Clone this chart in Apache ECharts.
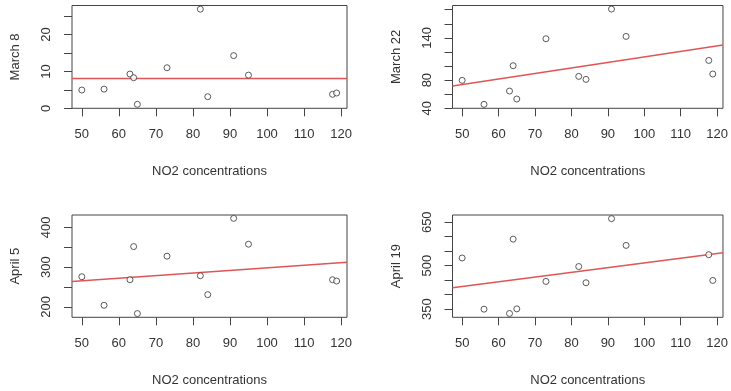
<!DOCTYPE html>
<html>
<head>
<meta charset="utf-8">
<script src="https://cdn.jsdelivr.net/npm/echarts@6/dist/echarts.min.js"></script>
<style>html,body{margin:0;padding:0;background:#fff}#c{width:731px;height:391px}</style>
</head>
<body>
<div id="c"></div>
<script>
// NO2 concentrations (x, shared by all panels)
const no2 = [50, 56, 63, 64, 65, 73, 82, 84, 91, 95, 117.7, 118.8];
// response values per date
const march8  = [4.96, 5.2, 9.3, 8.3, 1.08, 11.0, 26.9, 3.15, 14.3, 9.0, 3.8, 4.15];
const march22 = [79.7, 45.6, 64.5, 100.5, 53.2, 138.8, 85.3, 81.1, 180.9, 142.1, 108.0, 88.7];
const april5  = [275.9, 204.2, 268.4, 351.7, 183.4, 327.6, 278.4, 230.9, 422.6, 357.6, 268.4, 265.1];
const april19 = [526.7, 350, 335.2, 591.7, 351.1, 445.8, 497.1, 441.2, 662.4, 570.1, 538.1, 449.2];
const panelNames = ['March 8', 'March 22', 'April 5', 'April 19'];
// fitted line end values (at x range ends)
const fitX = [47.35, 121.6];
const fit8  = [8.1, 8.1];
const fit22 = [71.6, 129.8];
const fit5  = [264.2, 312.6];
const fit19 = [424.1, 545];
// axis ranges
const xRange = [47.35, 121.6];
const yRange8 = [0, 27.9];
const yRange22 = [40, 186];
const yRange5 = [174, 431];
const yRange19 = [322, 675];
// ticks & labels
const xTicks = [50, 60, 70, 80, 90, 100, 110, 120];
const yTicks8 = [0, 5, 10, 15, 20, 25];
const yLabels8 = [0, 10, 20];
const yTicks22 = [40, 60, 80, 100, 120, 140, 160, 180];
const yLabels22 = [40, 80, 140];
const yTicks5 = [200, 250, 300, 350, 400];
const yLabels5 = [200, 300, 400];
const yTicks19 = [350, 400, 450, 500, 550, 600, 650];
const yLabels19 = [350, 500, 650];
const xName = 'NO2 concentrations';

const ys = [march8, march22, april5, april19];
const fits = [fit8, fit22, fit5, fit19];
const yRanges = [yRange8, yRange22, yRange5, yRange19];
const yTickSets = [yTicks8, yTicks22, yTicks5, yTicks19];
const yLabelSets = [yLabels8, yLabels22, yLabels5, yLabels19];

const grids = [
  {left: 72, top: 5.5, width: 275, height: 102.8},
  {left: 452.5, top: 5.5, width: 274.2, height: 102.8},
  {left: 72, top: 215, width: 275, height: 102.3},
  {left: 452.5, top: 215, width: 274.2, height: 102.3}
];
const FONT = 'Liberation Sans, Arial, sans-serif';
const TXT = '#333';

const option = {
  animation: false,
  grid: grids.map(g => Object.assign({show: true, borderColor: '#444', borderWidth: 1, backgroundColor: 'transparent'}, g)),
  xAxis: grids.map((g, i) => ({
    type: 'value', gridIndex: i, min: xRange[0], max: xRange[1],
    name: xName, nameLocation: 'middle', nameGap: 57,
    nameTextStyle: {fontFamily: FONT, fontSize: 13, color: TXT},
    axisLine: {show: false},
    splitLine: {show: false},
    axisTick: {show: true, length: 8, customValues: xTicks, lineStyle: {color: '#444'}},
    axisLabel: {customValues: xTicks, margin: 20, fontFamily: FONT, fontSize: 13, color: TXT}
  })),
  yAxis: grids.map((g, i) => ({
    type: 'value', gridIndex: i, min: yRanges[i][0], max: yRanges[i][1],
    name: panelNames[i], nameLocation: 'middle', nameGap: 50,
    nameTextStyle: {fontFamily: FONT, fontSize: 13, color: TXT},
    axisLine: {show: false},
    splitLine: {show: false},
    axisTick: {show: true, length: 8, customValues: yTickSets[i], lineStyle: {color: '#444'}},
    axisLabel: {customValues: yLabelSets[i], rotate: 90, margin: 19, showMinLabel: true, showMaxLabel: true, fontFamily: FONT, fontSize: 13, color: TXT}
  })),
  series: []
};
ys.forEach((yv, i) => {
  option.series.push({
    type: 'scatter', xAxisIndex: i, yAxisIndex: i,
    data: no2.map((x, k) => [x, yv[k]]),
    symbol: 'circle', symbolSize: 6, clip: false,
    itemStyle: {color: '#fff', borderColor: '#333', borderWidth: 1}
  });
  option.series.push({
    type: 'line', xAxisIndex: i, yAxisIndex: i,
    data: fitX.map((x, k) => [x, fits[i][k]]),
    symbol: 'none', lineStyle: {color: '#e05555', width: 1.5}, z: 1
  });
});
const chart = echarts.init(document.getElementById('c'));
chart.setOption(option);
</script>
</body>
</html>
